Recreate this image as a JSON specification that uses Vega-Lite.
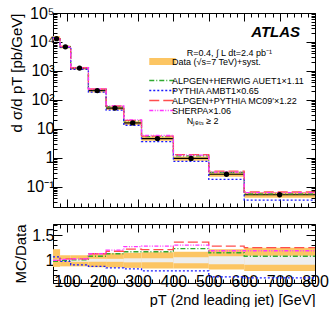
{
  "$schema": "https://vega.github.io/schema/vega-lite/v6.json",
  "padding": {"left": 9, "top": 4, "right": 0, "bottom": 0},
  "spacing": 0,
  "background": "white",
  "config": {
    "font": "Liberation Sans",
    "view": {"stroke": "black", "strokeWidth": 1},
    "axis": {"grid": false, "domain": false, "tickColor": "black", "labelColor": "black", "titleColor": "black", "labelFont": "Liberation Sans", "titleFont": "Liberation Sans", "titleFontWeight": "normal", "labelOverlap": false, "labelFlush": false}
  },
  "datasets": {
    "bins": [
      {"lo": 60, "hi": 80, "c": 70, "v": 13000, "slo": 11310, "shi": 15860, "elo": 12740, "ehi": 13260, "rlo": 0.87, "rhi": 1.22, "tlo": 0.98, "thi": 1.02},
      {"lo": 80, "hi": 110, "c": 95, "v": 6800, "slo": 5984, "shi": 7480, "elo": 6664, "ehi": 6936, "rlo": 0.88, "rhi": 1.10, "tlo": 0.98, "thi": 1.02},
      {"lo": 110, "hi": 160, "c": 135, "v": 1250, "slo": 1100, "shi": 1375, "elo": 1212.5, "ehi": 1287.5, "rlo": 0.88, "rhi": 1.10, "tlo": 0.97, "thi": 1.03},
      {"lo": 160, "hi": 210, "c": 185, "v": 210, "slo": 180.6, "shi": 239.4, "elo": 203.7, "ehi": 216.3, "rlo": 0.86, "rhi": 1.14, "tlo": 0.97, "thi": 1.03},
      {"lo": 210, "hi": 260, "c": 235, "v": 52, "slo": 44.72, "shi": 59.28, "elo": 50.44, "ehi": 53.56, "rlo": 0.86, "rhi": 1.14, "tlo": 0.97, "thi": 1.03},
      {"lo": 260, "hi": 310, "c": 285, "v": 16, "slo": 13.6, "shi": 18.4, "elo": 15.36, "ehi": 16.64, "rlo": 0.85, "rhi": 1.15, "tlo": 0.96, "thi": 1.04},
      {"lo": 310, "hi": 400, "c": 355, "v": 4.6, "slo": 3.864, "shi": 5.336, "elo": 4.416, "ehi": 4.784, "rlo": 0.84, "rhi": 1.16, "tlo": 0.96, "thi": 1.04},
      {"lo": 400, "hi": 500, "c": 450, "v": 0.95, "slo": 0.798, "shi": 1.1115, "elo": 0.893, "ehi": 1.007, "rlo": 0.84, "rhi": 1.17, "tlo": 0.94, "thi": 1.06},
      {"lo": 500, "hi": 600, "c": 550, "v": 0.27, "slo": 0.2214, "shi": 0.3294, "elo": 0.2484, "ehi": 0.2916, "rlo": 0.82, "rhi": 1.22, "tlo": 0.92, "thi": 1.08},
      {"lo": 600, "hi": 800, "c": 700, "v": 0.053, "slo": 0.04187, "shi": 0.06625, "elo": 0.04823, "ehi": 0.05777, "rlo": 0.79, "rhi": 1.25, "tlo": 0.91, "thi": 1.09}
    ],
    "mc": [
      {"s": "ALPGEN+HERWIG AUET1×1.11", "x": 60, "y": 12740, "r": 0.98},
      {"s": "ALPGEN+HERWIG AUET1×1.11", "x": 80, "y": 6800, "r": 1.0},
      {"s": "ALPGEN+HERWIG AUET1×1.11", "x": 110, "y": 1262.5, "r": 1.01},
      {"s": "ALPGEN+HERWIG AUET1×1.11", "x": 160, "y": 226.8, "r": 1.08},
      {"s": "ALPGEN+HERWIG AUET1×1.11", "x": 210, "y": 58.76, "r": 1.13},
      {"s": "ALPGEN+HERWIG AUET1×1.11", "x": 260, "y": 18.72, "r": 1.17},
      {"s": "ALPGEN+HERWIG AUET1×1.11", "x": 310, "y": 5.382, "r": 1.17},
      {"s": "ALPGEN+HERWIG AUET1×1.11", "x": 400, "y": 1.1685, "r": 1.23},
      {"s": "ALPGEN+HERWIG AUET1×1.11", "x": 500, "y": 0.3105, "r": 1.15},
      {"s": "ALPGEN+HERWIG AUET1×1.11", "x": 600, "y": 0.05724, "r": 1.08},
      {"s": "ALPGEN+HERWIG AUET1×1.11", "x": 800, "y": 0.05724, "r": 1.08},
      {"s": "PYTHIA AMBT1×0.65", "x": 60, "y": 13910, "r": 1.07},
      {"s": "PYTHIA AMBT1×0.65", "x": 80, "y": 6664, "r": 0.98},
      {"s": "PYTHIA AMBT1×0.65", "x": 110, "y": 1137.5, "r": 0.91},
      {"s": "PYTHIA AMBT1×0.65", "x": 160, "y": 184.8, "r": 0.88},
      {"s": "PYTHIA AMBT1×0.65", "x": 210, "y": 44.2, "r": 0.85},
      {"s": "PYTHIA AMBT1×0.65", "x": 260, "y": 13.28, "r": 0.83},
      {"s": "PYTHIA AMBT1×0.65", "x": 310, "y": 3.634, "r": 0.79},
      {"s": "PYTHIA AMBT1×0.65", "x": 400, "y": 0.7505, "r": 0.79},
      {"s": "PYTHIA AMBT1×0.65", "x": 500, "y": 0.1809, "r": 0.67},
      {"s": "PYTHIA AMBT1×0.65", "x": 600, "y": 0.03445, "r": 0.65},
      {"s": "PYTHIA AMBT1×0.65", "x": 800, "y": 0.03445, "r": 0.65},
      {"s": "ALPGEN+PYTHIA MC09′×1.22", "x": 60, "y": 13000, "r": 1.0},
      {"s": "ALPGEN+PYTHIA MC09′×1.22", "x": 80, "y": 7004, "r": 1.03},
      {"s": "ALPGEN+PYTHIA MC09′×1.22", "x": 110, "y": 1287.5, "r": 1.03},
      {"s": "ALPGEN+PYTHIA MC09′×1.22", "x": 160, "y": 237.3, "r": 1.13},
      {"s": "ALPGEN+PYTHIA MC09′×1.22", "x": 210, "y": 61.36, "r": 1.18},
      {"s": "ALPGEN+PYTHIA MC09′×1.22", "x": 260, "y": 19.52, "r": 1.22},
      {"s": "ALPGEN+PYTHIA MC09′×1.22", "x": 310, "y": 5.566, "r": 1.21},
      {"s": "ALPGEN+PYTHIA MC09′×1.22", "x": 400, "y": 1.292, "r": 1.36},
      {"s": "ALPGEN+PYTHIA MC09′×1.22", "x": 500, "y": 0.3456, "r": 1.28},
      {"s": "ALPGEN+PYTHIA MC09′×1.22", "x": 600, "y": 0.06625, "r": 1.25},
      {"s": "ALPGEN+PYTHIA MC09′×1.22", "x": 800, "y": 0.06625, "r": 1.25},
      {"s": "SHERPA×1.06", "x": 60, "y": 13000, "r": 1.0},
      {"s": "SHERPA×1.06", "x": 80, "y": 6936, "r": 1.02},
      {"s": "SHERPA×1.06", "x": 110, "y": 1287.5, "r": 1.03},
      {"s": "SHERPA×1.06", "x": 160, "y": 237.3, "r": 1.13},
      {"s": "SHERPA×1.06", "x": 210, "y": 62.4, "r": 1.2},
      {"s": "SHERPA×1.06", "x": 260, "y": 20.32, "r": 1.27},
      {"s": "SHERPA×1.06", "x": 310, "y": 5.888, "r": 1.28},
      {"s": "SHERPA×1.06", "x": 400, "y": 1.235, "r": 1.3},
      {"s": "SHERPA×1.06", "x": 500, "y": 0.3213, "r": 1.19},
      {"s": "SHERPA×1.06", "x": 600, "y": 0.06307, "r": 1.19},
      {"s": "SHERPA×1.06", "x": 800, "y": 0.06307, "r": 1.19}
    ]
  },
  "vconcat": [
    {
      "width": 262,
      "height": 194,
      "resolve": {"axis": {"x": "independent", "y": "independent"}},
      "layer": [
        {
          "data": {"name": "bins"},
          "mark": {"type": "rect", "color": "#fcc563"},
          "encoding": {
            "x": {"field": "lo", "type": "quantitative", "scale": {"domain": [60, 800], "nice": false, "zero": false},
              "axis": {"orient": "bottom", "values": [60, 80, 100, 120, 140, 160, 180, 200, 220, 240, 260, 280, 300, 320, 340, 360, 380, 400, 420, 440, 460, 480, 500, 520, 540, 560, 580, 600, 620, 640, 660, 680, 700, 720, 740, 760, 780, 800], "labels": false, "title": null, "tickSize": {"condition": {"test": "datum.value % 100 === 0", "value": -8}, "value": -4}}},
            "x2": {"field": "hi"},
            "y": {"field": "slo", "type": "quantitative", "scale": {"type": "log", "domain": [0.02, 100000], "nice": false},
              "axis": {"orient": "left", "values": [0.02, 0.03, 0.04, 0.05, 0.06, 0.07, 0.08, 0.09, 0.1, 0.2, 0.3, 0.4, 0.5, 0.6, 0.7, 0.8, 0.9, 1, 2, 3, 4, 5, 6, 7, 8, 9, 10, 20, 30, 40, 50, 60, 70, 80, 90, 100, 200, 300, 400, 500, 600, 700, 800, 900, 1000, 2000, 3000, 4000, 5000, 6000, 7000, 8000, 9000, 10000, 20000, 30000, 40000, 50000, 60000, 70000, 80000, 90000, 100000],
                "labelExpr": "abs(log(datum.value)/LN10 - round(log(datum.value)/LN10)) > 0.001 ? '' : datum.value >= 100000 ? '10⁵' : datum.value >= 10000 ? '10⁴' : datum.value >= 1000 ? '10³' : datum.value >= 100 ? '10²' : datum.value >= 10 ? '10' : datum.value >= 1 ? '1' : '10⁻¹'",
                "labelFontSize": 16, "labelPadding": 8,
                "tickSize": {"condition": {"test": "abs(log(datum.value)/LN10 - round(log(datum.value)/LN10)) < 0.001", "value": -9}, "value": -4},
                "title": "d σ/d pT [pb/GeV]", "titleFontSize": 15, "titleAnchor": "end", "titlePadding": 1}},
            "y2": {"field": "shi"}
          }
        },
        {
          "data": {"name": "bins"},
          "mark": {"type": "rule", "color": "black", "strokeWidth": 1.2},
          "encoding": {
            "x": {"field": "lo", "type": "quantitative",
              "axis": {"orient": "top", "values": [60, 80, 100, 120, 140, 160, 180, 200, 220, 240, 260, 280, 300, 320, 340, 360, 380, 400, 420, 440, 460, 480, 500, 520, 540, 560, 580, 600, 620, 640, 660, 680, 700, 720, 740, 760, 780, 800], "labels": false, "title": null, "tickSize": {"condition": {"test": "datum.value % 100 === 0", "value": -8}, "value": -4}}},
            "x2": {"field": "hi"},
            "y": {"field": "v", "type": "quantitative",
              "axis": {"orient": "right", "values": [0.02, 0.03, 0.04, 0.05, 0.06, 0.07, 0.08, 0.09, 0.1, 0.2, 0.3, 0.4, 0.5, 0.6, 0.7, 0.8, 0.9, 1, 2, 3, 4, 5, 6, 7, 8, 9, 10, 20, 30, 40, 50, 60, 70, 80, 90, 100, 200, 300, 400, 500, 600, 700, 800, 900, 1000, 2000, 3000, 4000, 5000, 6000, 7000, 8000, 9000, 10000, 20000, 30000, 40000, 50000, 60000, 70000, 80000, 90000, 100000], "labels": false, "title": null,
                "tickSize": {"condition": {"test": "abs(log(datum.value)/LN10 - round(log(datum.value)/LN10)) < 0.001", "value": -9}, "value": -4}}}
          }
        },
        {
          "data": {"name": "mc"},
          "mark": {"type": "line", "interpolate": "step-after", "strokeWidth": 1.3},
          "encoding": {
            "x": {"field": "x", "type": "quantitative", "axis": null},
            "y": {"field": "y", "type": "quantitative", "axis": null},
            "color": {"field": "s", "type": "nominal", "scale": {"domain": ["Data (√s=7 TeV)+syst.", "ALPGEN+HERWIG AUET1×1.11", "PYTHIA AMBT1×0.65", "ALPGEN+PYTHIA MC09′×1.22", "SHERPA×1.06"], "range": ["#fcc563", "#2eaa2e", "#1a1aff", "#ff4d4d", "#ff33ff"]},
              "legend": {"orient": "none", "legendX": 105, "legendY": 44, "title": null, "symbolType": "stroke", "symbolSize": 700, "symbolStrokeWidth": 1.5, "labelFontSize": 9, "labelFont": "Liberation Sans", "rowPadding": -6.5, "labelOffset": 5, "padding": 0,
                "encode": {"symbols": {"update": {"strokeWidth": {"signal": "datum.value === 'Data (√s=7 TeV)+syst.' ? 7 : 1.5"}}}}}},
            "strokeDash": {"field": "s", "type": "nominal", "scale": {"domain": ["Data (√s=7 TeV)+syst.", "ALPGEN+HERWIG AUET1×1.11", "PYTHIA AMBT1×0.65", "ALPGEN+PYTHIA MC09′×1.22", "SHERPA×1.06"], "range": [[1, 0], [5, 2, 1, 2], [2, 2], [10, 4], [4, 1.5, 1, 1.5, 1, 1.5]]},
              "legend": {"orient": "none", "legendX": 105, "legendY": 44, "title": null, "symbolType": "stroke", "symbolSize": 700, "symbolStrokeWidth": 1.5, "labelFontSize": 9, "labelFont": "Liberation Sans", "rowPadding": -6.5, "labelOffset": 5, "padding": 0,
                "encode": {"symbols": {"update": {"strokeWidth": {"signal": "datum.value === 'Data (√s=7 TeV)+syst.' ? 7 : 1.5"}}}}}}
          }
        },
        {
          "data": {"name": "bins"},
          "mark": {"type": "rule", "color": "black", "strokeWidth": 1.2},
          "encoding": {
            "x": {"field": "c", "type": "quantitative", "axis": null},
            "y": {"field": "elo", "type": "quantitative", "axis": null},
            "y2": {"field": "ehi"}
          }
        },
        {
          "data": {"name": "bins"},
          "mark": {"type": "point", "filled": true, "color": "black", "opacity": 1, "size": 28},
          "encoding": {
            "x": {"field": "c", "type": "quantitative", "axis": null},
            "y": {"field": "v", "type": "quantitative", "axis": null}
          }
        },
        {
          "data": {"values": [{}]},
          "mark": {"type": "text", "font": "Liberation Sans", "fontSize": 15, "fontWeight": "bold", "fontStyle": "italic", "align": "right", "baseline": "middle"},
          "encoding": {"x": {"datum": 758, "axis": null}, "y": {"datum": 22000, "axis": null}, "text": {"value": "ATLAS"}}
        },
        {
          "data": {"values": [{}]},
          "mark": {"type": "text", "font": "Liberation Sans", "fontSize": 9, "align": "left", "baseline": "middle"},
          "encoding": {"x": {"datum": 438, "axis": null}, "y": {"datum": 4300, "axis": null}, "text": {"value": "R=0.4, ∫ L dt=2.4 pb⁻¹"}}
        },
        {
          "data": {"values": [{}]},
          "mark": {"type": "text", "font": "Liberation Sans", "fontSize": 9, "align": "left", "baseline": "middle"},
          "encoding": {"x": {"datum": 438, "axis": null}, "y": {"datum": 18, "axis": null}, "text": {"value": "Nⱼₑₜₛ ≥ 2"}}
        }
      ]
    },
    {
      "width": 262,
      "height": 59,
      "resolve": {"axis": {"x": "independent", "y": "independent"}},
      "layer": [
        {
          "data": {"name": "bins"},
          "mark": {"type": "rect", "color": "#fcc563"},
          "encoding": {
            "x": {"field": "lo", "type": "quantitative", "scale": {"domain": [60, 800], "nice": false, "zero": false},
              "axis": {"orient": "bottom", "values": [60, 80, 100, 120, 140, 160, 180, 200, 220, 240, 260, 280, 300, 320, 340, 360, 380, 400, 420, 440, 460, 480, 500, 520, 540, 560, 580, 600, 620, 640, 660, 680, 700, 720, 740, 760, 780, 800],
                "labelExpr": "datum.value % 100 === 0 ? datum.label : ''", "labelFontSize": 16, "labelPadding": -2,
                "tickSize": {"condition": {"test": "datum.value % 100 === 0", "value": -8}, "value": -4},
                "title": "pT (2nd leading jet) [GeV]", "titleFontSize": 14.5, "titleAnchor": "end", "titlePadding": 0}},
            "x2": {"field": "hi"},
            "y": {"field": "rlo", "type": "quantitative", "scale": {"domain": [0.55, 1.72], "nice": false, "zero": false},
              "axis": {"orient": "left", "values": [0.6, 0.7, 0.8, 0.9, 1, 1.1, 1.2, 1.3, 1.4, 1.5, 1.6, 1.7], "labelExpr": "datum.value === 1 ? '1' : datum.value === 1.5 ? '1.5' : ''", "labelFontSize": 16, "labelPadding": 8,
                "tickSize": {"condition": {"test": "datum.value === 1 || datum.value === 1.5", "value": -9}, "value": -4},
                "title": "MC/Data", "titleFontSize": 15, "titlePadding": 3}},
            "y2": {"field": "rhi"}
          }
        },
        {
          "data": {"name": "bins"},
          "mark": {"type": "rect", "color": "#eeeeee"},
          "encoding": {
            "x": {"field": "lo", "type": "quantitative",
              "axis": {"orient": "top", "values": [60, 80, 100, 120, 140, 160, 180, 200, 220, 240, 260, 280, 300, 320, 340, 360, 380, 400, 420, 440, 460, 480, 500, 520, 540, 560, 580, 600, 620, 640, 660, 680, 700, 720, 740, 760, 780, 800], "labels": false, "title": null, "tickSize": {"condition": {"test": "datum.value % 100 === 0", "value": -8}, "value": -4}}},
            "x2": {"field": "hi"},
            "y": {"field": "tlo", "type": "quantitative",
              "axis": {"orient": "right", "values": [0.6, 0.7, 0.8, 0.9, 1, 1.1, 1.2, 1.3, 1.4, 1.5, 1.6, 1.7], "labels": false, "title": null,
                "tickSize": {"condition": {"test": "datum.value === 1 || datum.value === 1.5", "value": -9}, "value": -4}}},
            "y2": {"field": "thi"}
          }
        },
        {
          "data": {"name": "mc"},
          "mark": {"type": "line", "interpolate": "step-after", "strokeWidth": 1.3},
          "encoding": {
            "x": {"field": "x", "type": "quantitative", "axis": null},
            "y": {"field": "r", "type": "quantitative", "axis": null},
            "color": {"field": "s", "type": "nominal", "legend": null},
            "strokeDash": {"field": "s", "type": "nominal", "legend": null}
          }
        }
      ]
    }
  ]
}
